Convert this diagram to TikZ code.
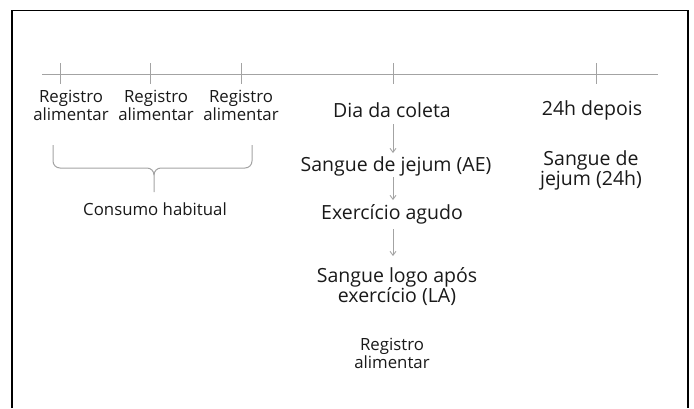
\documentclass[tikz,border=0pt]{standalone}
\usepackage{fontspec}
\setmainfont{Open Sans}
\usetikzlibrary{arrows.meta}
\definecolor{linegray}{HTML}{A3A3A3}
\begin{document}
\begin{tikzpicture}[x=1pt,y=-1pt]
    \tikzstyle{every node}+=[inner sep=0pt, align=center, text=black!90]
    \tikzstyle{small}=[font=\fontsize{16.8}{18}\selectfont]
    \tikzstyle{big}=[font=\fontsize{19.5}{20}\selectfont]
    \tikzstyle{flow}=[draw=linegray, line width=0.9pt, -{Straight Barb[length=4pt,width=6pt]}]
    \useasboundingbox (0,0) rectangle (694,408);
    % frame (open at the bottom)
    \draw [black, line width=1.2pt] (12,408) -- (12,10.5) -- (688,10.5) -- (688,408);
    % time line
    \draw [linegray, line width=1pt] (42,74) -- (658,74);
    \foreach \tx in {60,150,241,393,596}
        \draw [linegray, line width=1pt] (\tx,63) -- (\tx,84);
    \node [small] (reg1) at (71,105) {Registro\\alimentar};
    \node [small] (reg2) at (156,105) {Registro\\alimentar};
    \node [small] (reg3) at (241,105) {Registro\\alimentar};
    % brace under the three records
    \draw [linegray, line width=1pt] (53,145) -- (53,161) to[out=-90,in=180] (60,168) -- (147,168)
        to[out=0,in=90] (154,175) -- (154,192);
    \draw [linegray, line width=1pt] (252,145) -- (252,161) to[out=-90,in=0] (245,168) -- (161,168)
        to[out=180,in=90] (154,175);
    \node [small] (habit) at (155,209) {Consumo habitual};
    % collection day
    \node [big] (dia) at (392,110) {Dia da coleta};
    \node [big] (jejum) at (396,166) {Sangue de jejum (AE)};
    \node [big] (exerc) at (392,214) {Exercício agudo};
    \node [big] (logo) at (397,287) {Sangue logo após\\exercício (LA)};
    \node [small] (reg4) at (392,353) {Registro\\alimentar};
    \coordinate (axis) at (393,0);
    \draw [flow, shorten <=14pt, shorten >=13pt] (dia.center -| axis) -- (jejum.center -| axis);
    \draw [flow, shorten <=11pt, shorten >=14pt] (jejum.center -| axis) -- (exerc.center -| axis);
    \draw [flow, shorten <=15pt, shorten >=31pt] (exerc.center -| axis) -- (logo.center -| axis);
    % next day
    \node [big] (depois) at (592,110) {24h depois};
    \node [big] (jejum24) at (591,170) {Sangue de\\jejum (24h)};
\end{tikzpicture}
\end{document}
